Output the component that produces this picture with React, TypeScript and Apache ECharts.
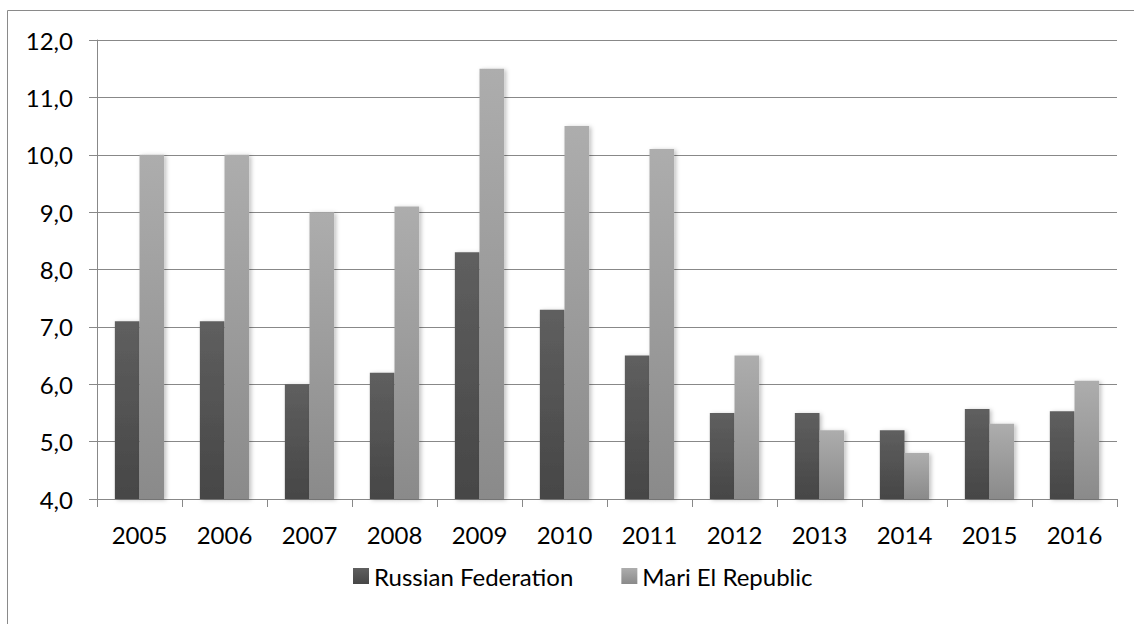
import React, { useEffect, useRef } from "react";
import * as echarts from "echarts";

const years = ["2005", "2006", "2007", "2008", "2009", "2010", "2011", "2012", "2013", "2014", "2015", "2016"];
const russianFederation = [7.1, 7.1, 6.0, 6.2, 8.3, 7.3, 6.5, 5.5, 5.5, 5.2, 5.57, 5.53];
const mariElRepublic = [10.0, 10.0, 9.0, 9.1, 11.5, 10.5, 10.1, 6.5, 5.2, 4.8, 5.31, 6.06];

const FONT = "Lato, 'Noto Sans', sans-serif";

function grad(top: string, bottom: string) {
  return new echarts.graphic.LinearGradient(0, 0, 0, 1, [
    { offset: 0, color: top },
    { offset: 1, color: bottom },
  ]);
}

export default function App() {
  const ref = useRef<HTMLDivElement>(null);
  useEffect(() => {
    if (!ref.current) return;
    const chart = echarts.init(ref.current, null, { renderer: "svg" });
    const barStyle = (top: string, bottom: string) => ({
      color: grad(top, bottom),
      shadowBlur: 4,
      shadowColor: "rgba(0,0,0,0.25)",
      shadowOffsetX: 2,
      shadowOffsetY: 1,
    });
    chart.setOption({
      animation: false,
      backgroundColor: "#ffffff",
      graphic: [
        {
          type: "rect",
          shape: { x: 7.5, y: 10.5, width: 1200, height: 700 },
          style: { fill: "none", stroke: "#8a8a8a", lineWidth: 1 },
          silent: true,
          z: -1,
        },
      ],
      grid: { left: 97, right: 17, top: 40, bottom: 125 },
      legend: {
        left: 348,
        top: 559,
        itemWidth: 16,
        itemHeight: 16,
        itemGap: 48,
        icon: "rect",
        textStyle: { fontFamily: FONT, fontSize: 24, color: "#000" },
        data: [
          { name: "Russian Federation", itemStyle: { color: grad("#5f5f5f", "#464646") } },
          { name: "Mari El Republic", itemStyle: { color: grad("#adadad", "#8a8a8a") } },
        ],
      },
      xAxis: {
        type: "category",
        data: years,
        axisLine: { show: true, lineStyle: { color: "#888", width: 1 } },
        axisTick: { show: true, length: 8, lineStyle: { color: "#888" } },
        axisLabel: { fontFamily: FONT, fontSize: 24, color: "#000", margin: 23 },
      },
      yAxis: {
        type: "value",
        min: 4,
        max: 12,
        interval: 1,
        axisLine: { show: true, lineStyle: { color: "#888", width: 1 } },
        axisTick: { show: true, length: 8, lineStyle: { color: "#888" } },
        splitLine: { lineStyle: { color: "#888", width: 1 } },
        axisLabel: {
          fontFamily: FONT,
          fontSize: 24,
          color: "#000",
          margin: 24,
          formatter: (v: number) => v.toFixed(1).replace(".", ","),
        },
      },
      series: [
        {
          name: "Russian Federation",
          type: "bar",
          data: russianFederation,
          barGap: "0%",
          barCategoryGap: "42%",
          itemStyle: barStyle("#5f5f5f", "#464646"),
        },
        {
          name: "Mari El Republic",
          type: "bar",
          data: mariElRepublic,
          barGap: "0%",
          barCategoryGap: "42%",
          itemStyle: barStyle("#adadad", "#8a8a8a"),
        },
      ],
    });
    return () => chart.dispose();
  }, []);
  return (
    <div
      ref={ref}
      style={{ position: "fixed", left: 0, top: 0, width: 1134, height: 624 }}
    />
  );
}
